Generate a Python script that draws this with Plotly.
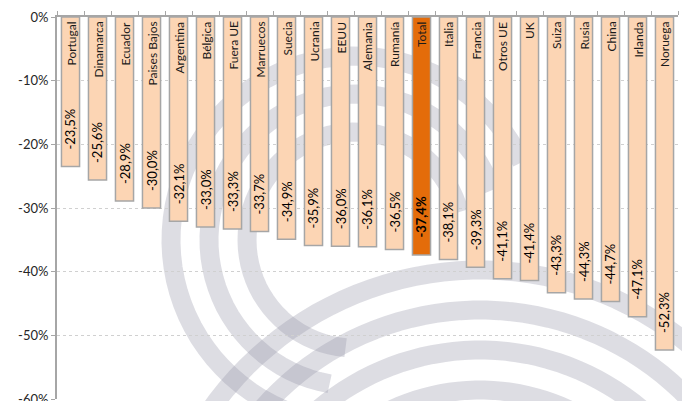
import numpy as np
import plotly.graph_objects as go

# datos
paises = ["Portugal", "Dinamarca", "Ecuador", "Paises Bajos", "Argentina", "Bélgica",
          "Fuera UE", "Marruecos", "Suecia", "Ucrania", "EEUU", "Alemania", "Rumanía",
          "Total", "Italia", "Francia", "Otros UE", "UK", "Suiza", "Rusia", "China",
          "Irlanda", "Noruega"]
variacion = [-23.5, -25.6, -28.9, -30.0, -32.1, -33.0, -33.3, -33.7, -34.9, -35.9, -36.0,
             -36.1, -36.5, -37.4, -38.1, -39.3, -41.1, -41.4, -43.3, -44.3, -44.7, -47.1, -52.3]
y_ticks = [0, -10, -20, -30, -40, -50, -60]
y_labels = ["0%", "-10%", "-20%", "-30%", "-40%", "-50%", "-60%"]

FONT = "Lato, Calibri, sans-serif"
W, H = 682, 401
ML, MR, MT, MB = 57, 4, 17, 2
PW, PH = W - ML - MR, H - MT - MB

colores = ["#E46C0A" if p == "Total" else "#FCD5B4" for p in paises]

fig = go.Figure()
fig.add_trace(go.Bar(
    x=paises,
    y=variacion,
    marker=dict(color=colores, line=dict(color="#A6A6A6", width=1.5)),
    hoverinfo="skip",
))

# etiquetas de pais (arriba, dentro de la barra)
for p in paises:
    fig.add_annotation(x=p, y=0, text=p, textangle=-90, showarrow=False,
                       xanchor="center", yanchor="top", yshift=-3,
                       font=dict(family=FONT, size=12, color="#1a1a1a"))

# etiquetas de valor (abajo, dentro de la barra)
for p, v in zip(paises, variacion):
    txt = f"{v:.1f}%".replace(".", ",")
    if p == "Total":
        txt = "<b>" + txt + "</b>"
    fig.add_annotation(x=p, y=v, text=txt, textangle=-90, showarrow=False,
                       xanchor="center", yanchor="bottom", yshift=15,
                       font=dict(family=FONT, size=13, color="#000000"))


# marca de agua (arcos grises, decorativa)
def arco(cx, cy, r, a0, a1):
    t = np.radians(np.linspace(a0, a1, 60))
    px = cx + r * np.cos(t)
    py = cy + r * np.sin(t)
    xs = (px - ML) / PW
    ys = (H - MB - py) / PH
    return "M " + " L ".join(f"{a:.4f},{b:.4f}" for a, b in zip(xs, ys))


arcos = [(355, 240, 108, 95, 345), (355, 240, 146, 100, 340), (355, 240, 184, 105, 335),
         (480, 600, 210, 200, 340), (480, 600, 250, 198, 342), (480, 600, 290, 196, 344),
         (480, 600, 330, 194, 346)]
for cx, cy, r, a0, a1 in arcos:
    fig.add_shape(type="path", path=arco(cx, cy, r, a0, a1), xref="paper", yref="paper",
                  line=dict(color="rgba(150,150,168,0.32)", width=19), layer="below")

fig.update_layout(
    width=W, height=H,
    margin=dict(l=ML, r=MR, t=MT, b=MB, autoexpand=False),
    plot_bgcolor="white", paper_bgcolor="white",
    showlegend=False, bargap=0.33,
    font=dict(family=FONT, size=13, color="#404040"),
)
fig.update_xaxes(side="top", showticklabels=False, showline=True, linecolor="#A6A6A6",
                 linewidth=2, ticks="outside", tickson="boundaries", ticklen=4,
                 tickcolor="#A6A6A6", showgrid=False, fixedrange=True, automargin=False)
fig.update_yaxes(range=[-60, 0], tickvals=y_ticks, ticktext=y_labels, showline=True,
                 linecolor="#A6A6A6", linewidth=2, ticks="outside", ticklen=4,
                 tickcolor="#A6A6A6", showgrid=True, gridcolor="#D0D0D0", griddash="dot",
                 gridwidth=1, zeroline=False, tickfont=dict(size=13, color="#262626"),
                 ticklabeloverflow="allow", fixedrange=True, automargin=False)

fig.write_html("out.html", config={"displayModeBar": False},
               post_script="document.body.style.margin='0';")
